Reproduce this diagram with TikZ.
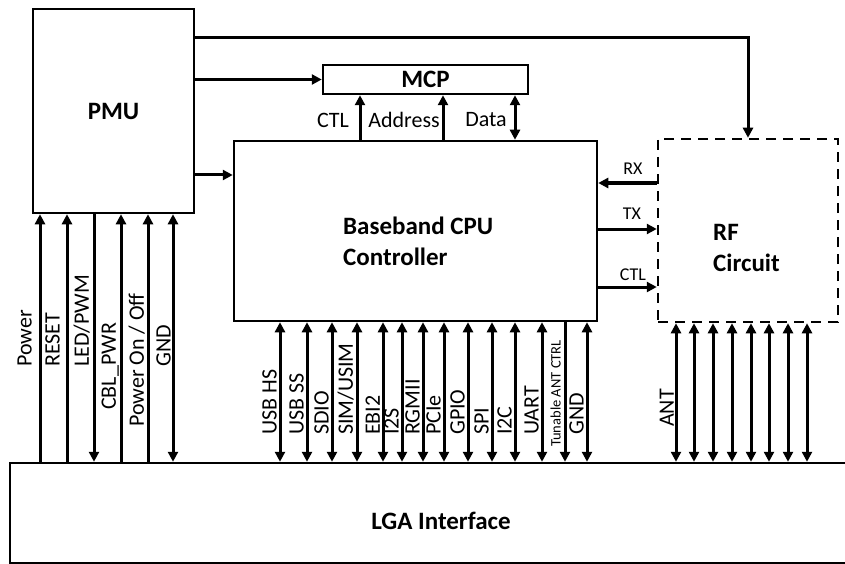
\documentclass[tikz,border=0pt]{standalone}
\usepackage{fontspec}
\setmainfont{Carlito}
\usetikzlibrary{arrows.meta, positioning}

\begin{document}
\begin{tikzpicture}[x=1pt, y=-1pt,
  block/.style={rectangle, draw, line width=2.5pt, inner sep=0pt},
  title/.style={font=\fontsize{25}{31}\selectfont\bfseries, align=left, inner sep=0pt},
  lab/.style={font=\fontsize{22}{24}\selectfont, inner sep=0pt},
  sig/.style={lab, rotate=90, anchor=south west},
  tag/.style={font=\fontsize{18}{20}\selectfont, inner sep=0pt},
  arr/.style={-{Triangle[length=10pt, width=10pt]}, line width=3pt},
  pinup/.style={arr},
  pindown/.style={{Triangle[length=10pt, width=10pt]}-, line width=3pt},
  pinboth/.style={{Triangle[length=10pt, width=10pt]}-{Triangle[length=10pt, width=10pt]}, line width=3pt},
]
\useasboundingbox (0,0) rectangle (845,564);

% ---- Blocks ----
\node[block, title, minimum width=161pt, minimum height=204pt] (pmu) at (113.5,111) {PMU};
\node[block, title, minimum width=205pt, minimum height=29pt] (mcp) at (425.5,79.5) {MCP};
\node[block, minimum width=363pt, minimum height=180pt] (bb) at (415.5,231) {};
\node[title, anchor=west] (bbt) at (343,241) {Baseband CPU\\Controller};
\node[block, dashed, dash pattern=on 10pt off 7pt, minimum width=180pt, minimum height=183pt] (rf) at (748,230.5) {};
\node[title, anchor=west] (rft) at (713,248) {RF\\Circuit};
\node[block, minimum width=870pt, minimum height=100pt] (lga) at (445,513) {};
\node[title] (lgat) at (441,521) {LGA Interface};

% ---- PMU outputs ----
\draw[arr] (pmu.east |- 0,38) -| (rf.north);
\draw[arr] (pmu.east |- mcp.west) -- (mcp.west);
\draw[arr] (pmu.east |- 0,175) -- (bb.west |- 0,175);

% ---- Memory bus ----
\draw[arr] (bb.north -| 360,0) -- (mcp.south -| 360,0);
\draw[arr] (bb.north -| 443,0) -- (mcp.south -| 443,0);
\draw[pinboth] (bb.north -| 515,0) -- (mcp.south -| 515,0);
\node[lab] (mctl) at (333,120) {CTL};
\node[lab] (madr) at (404,120) {Address};
\node[lab] (mdat) at (486,120) {Data};

% ---- RF link ----
\draw[arr] (rf.west |- 0,183) -- (bb.east |- 0,183);
\draw[arr] (bb.east |- 0,229) -- (rf.west |- 0,229);
\draw[arr] (bb.east |- 0,287) -- (rf.west |- 0,287);
\node[tag] (rx) at (633,169) {RX};
\node[tag] (tx) at (632,214) {TX};
\node[tag] (rctl) at (633,275) {CTL};

% ---- PMU pins ----
\foreach \x/\st/\txt/\ly/\lx [count=\i] in {40/pinup/Power/367/32, 67/pinup/RESET/367/60,
    94/pindown/{LED/PWM}/367/90, 121/pinup/{CBL\_PWR}/410/119,
    148/pinup/{Power On / Off}/427/145, 173/pinboth/GND/367/171} {
  \draw[\st] (lga.north -| \x,0) -- (pmu.south -| \x,0);
  \node[sig] (p\i) at (\lx,\ly) {\txt};
}

% ---- Baseband pins ----
\foreach \x/\txt [count=\i] in {280/USB HS, 307/USB SS, 332/SDIO, 357/{SIM/USIM}, 383/EBI2,
    402/I2S, 423/RGMII, 444/PCIe, 468/GPIO, 492/SPI, 515/I2C, 542/UART, 587/GND} {
  \draw[pinboth] (lga.north -| \x,0) -- (bb.south -| \x,0);
  \node[sig] (b\i) at (\x-3,435) {\txt};
}
\draw[pindown] (lga.north -| 565,0) -- (bb.south -| 565,0);
\node[sig, font=\fontsize{14.5}{16}\selectfont] (bant) at (561,447) {Tunable ANT CTRL};

% ---- RF pins ----
\foreach \x in {676,694,713,732,751,769,788,807}
  \draw[pinboth] (lga.north -| \x,0) -- (rf.south -| \x,0);
\node[sig] (ant) at (674,427) {ANT};

\end{tikzpicture}
\end{document}
